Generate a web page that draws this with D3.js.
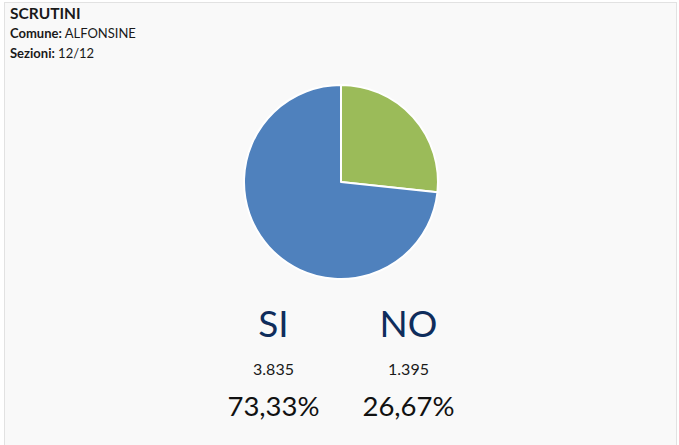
<!DOCTYPE html>
<html>
<head>
<meta charset="utf-8">
<script src="https://cdn.jsdelivr.net/npm/d3@7"></script>
<style>
  html, body { margin: 0; padding: 0; background: #fff; }
  svg { display: block; font-family: Lato, "Open Sans", sans-serif; }
</style>
</head>
<body>
<svg id="chart" width="679" height="445"></svg>
<script>
// data
var categories = ["SI", "NO"];
var votes = [3835, 1395];
var percents = ["73,33%", "26,67%"];
var colors = ["#4F81BD", "#9BBB59"];
var header = ["SCRUTINI"];
var infoLabels = ["Comune:", "Sezioni:"];
var infoValues = ["ALFONSINE", "12/12"];

var width = 679, height = 445;
var cx = 341, cy = 182, radius = 97;

var svg = d3.select("#chart");

// panel
svg.append("rect")
  .attr("x", 4.5).attr("y", 2.5)
  .attr("width", 672).attr("height", 445)
  .attr("fill", "#f9f9f9")
  .attr("stroke", "#e2e2e2")
  .attr("stroke-width", 1);

// header texts
svg.append("text")
  .attr("x", 10).attr("y", 19)
  .attr("font-size", 15.5).attr("font-weight", 700)
  .attr("fill", "#1a1a1a")
  .text(header[0]);

infoLabels.forEach(function(lbl, i) {
  var t = svg.append("text")
    .attr("x", 10).attr("y", 38 + i * 20)
    .attr("font-size", 13)
    .attr("fill", "#1a1a1a");
  t.append("tspan").attr("font-weight", 700).text(lbl);
  t.append("tspan").text(" " + infoValues[i]);
});

// pie: NO slice starts at 12 o'clock, going clockwise
var pieData = categories.map(function(c, i) {
  return { name: c, value: votes[i], color: colors[i] };
}).reverse();

var pie = d3.pie().sort(null).value(function(d) { return d.value; });
var arc = d3.arc().innerRadius(0).outerRadius(radius);

svg.append("g")
  .attr("transform", "translate(" + cx + "," + cy + ")")
  .selectAll("path")
  .data(pie(pieData))
  .enter().append("path")
  .attr("d", arc)
  .attr("fill", function(d) { return d.data.color; })
  .attr("stroke", "#fff")
  .attr("stroke-width", 2)
  .attr("stroke-linejoin", "round");

// legend columns under the pie
var x = d3.scalePoint()
  .domain(categories)
  .range([cx - 67.5, cx + 67.5]);

var cols = svg.selectAll("g.col")
  .data(categories)
  .enter().append("g")
  .attr("class", "col")
  .attr("transform", function(d) { return "translate(" + x(d) + ",0)"; })
  .attr("text-anchor", "middle");

cols.append("text")
  .attr("y", 337)
  .attr("font-size", 37)
  .attr("fill", "#0f2d5c")
  .text(function(d) { return d; });

cols.append("text")
  .attr("y", 375)
  .attr("font-size", 16)
  .attr("fill", "#1a1a1a")
  .text(function(d, i) { return d3.format(",")(votes[i]).replace(/,/g, "."); });

cols.append("text")
  .attr("y", 416)
  .attr("font-size", 27.5)
  .attr("fill", "#111")
  .text(function(d, i) { return percents[i]; });
</script>
</body>
</html>
